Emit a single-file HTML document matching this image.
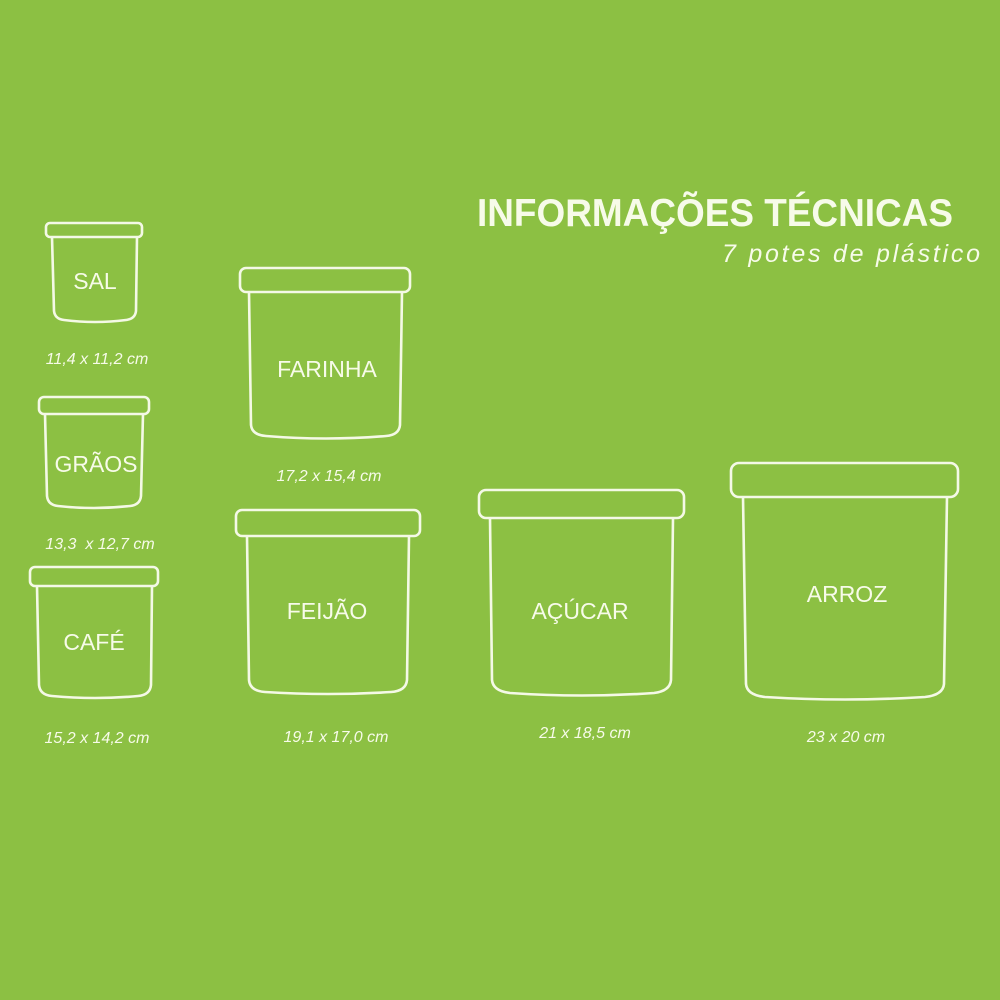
<!DOCTYPE html>
<html><head><meta charset="utf-8"><style>
html,body{margin:0;padding:0;background:#8cc043;}
svg{display:block}
text{font-family:"Liberation Sans","DejaVu Sans",sans-serif;fill:#f7fbe9}
.l{font-size:23px}
.d{font-size:16px;font-style:italic}
</style></head><body>
<svg width="1000" height="1000" viewBox="0 0 1000 1000">
<rect width="1000" height="1000" fill="#8cc043"/>
<g fill="none" stroke="#f4f9e6" stroke-width="2.6" stroke-linejoin="round">
<rect x="46" y="223" width="96" height="14" rx="4"/>
<path d="M52 237 L54 311 Q55 319 64 320 Q95 324 126 320 Q135 319 136 311 L137 237"/>
<rect x="39" y="397" width="110" height="17" rx="5"/>
<path d="M45 414 L47 496 Q48 505 58 506 Q94 510 130 506 Q140 505 141 496 L143 414"/>
<rect x="30" y="567" width="128" height="19" rx="5"/>
<path d="M37 586 L39 685 Q40 695 52 696 Q95 700 138 696 Q150 695 151 685 L152 586"/>
<rect x="240" y="268" width="170" height="24" rx="6"/>
<path d="M249 292 L251 425 Q252 435 266 436 Q326 441 386 436 Q399 435 400 425 L402 292"/>
<rect x="236" y="510" width="184" height="26" rx="6"/>
<path d="M247 536 L249 680 Q250 691 265 692 Q328 696 391 692 Q406 691 407 680 L409 536"/>
<rect x="479" y="490" width="205" height="28" rx="7"/>
<path d="M490 518 L492 680 Q493 691 510 693 Q582 698 654 693 Q670 691 671 680 L673 518"/>
<rect x="731" y="463" width="227" height="34" rx="8"/>
<path d="M743 497 L746 684 Q747 695 765 697 Q845 702 925 697 Q943 695 944 684 L947 497"/>
</g>
<text x="477" y="226" textLength="476" lengthAdjust="spacingAndGlyphs" style="font-size:39px;font-weight:bold">INFORMAÇÕES TÉCNICAS</text>
<text x="722" y="262" textLength="258" lengthAdjust="spacing" style="font-size:25px;font-style:italic">7 potes de plástico</text>
<text class="l" x="95" y="289" text-anchor="middle">SAL</text>
<text class="l" x="96" y="472" text-anchor="middle">GRÃOS</text>
<text class="l" x="94" y="650" text-anchor="middle">CAFÉ</text>
<text class="l" x="327" y="377" text-anchor="middle">FARINHA</text>
<text class="l" x="327" y="619" text-anchor="middle">FEIJÃO</text>
<text class="l" x="580" y="619" text-anchor="middle">AÇÚCAR</text>
<text class="l" x="847" y="602" text-anchor="middle">ARROZ</text>
<text class="d" x="97" y="364" text-anchor="middle">11,4 x 11,2 cm</text>
<text class="d" x="100" y="549" text-anchor="middle">13,3 &#160;x 12,7 cm</text>
<text class="d" x="97" y="743" text-anchor="middle">15,2 x 14,2 cm</text>
<text class="d" x="329" y="481" text-anchor="middle">17,2 x 15,4 cm</text>
<text class="d" x="336" y="742" text-anchor="middle">19,1 x 17,0 cm</text>
<text class="d" x="585" y="738" text-anchor="middle">21 x 18,5 cm</text>
<text class="d" x="846" y="742" text-anchor="middle">23 x 20 cm</text>
</svg>
</body></html>
